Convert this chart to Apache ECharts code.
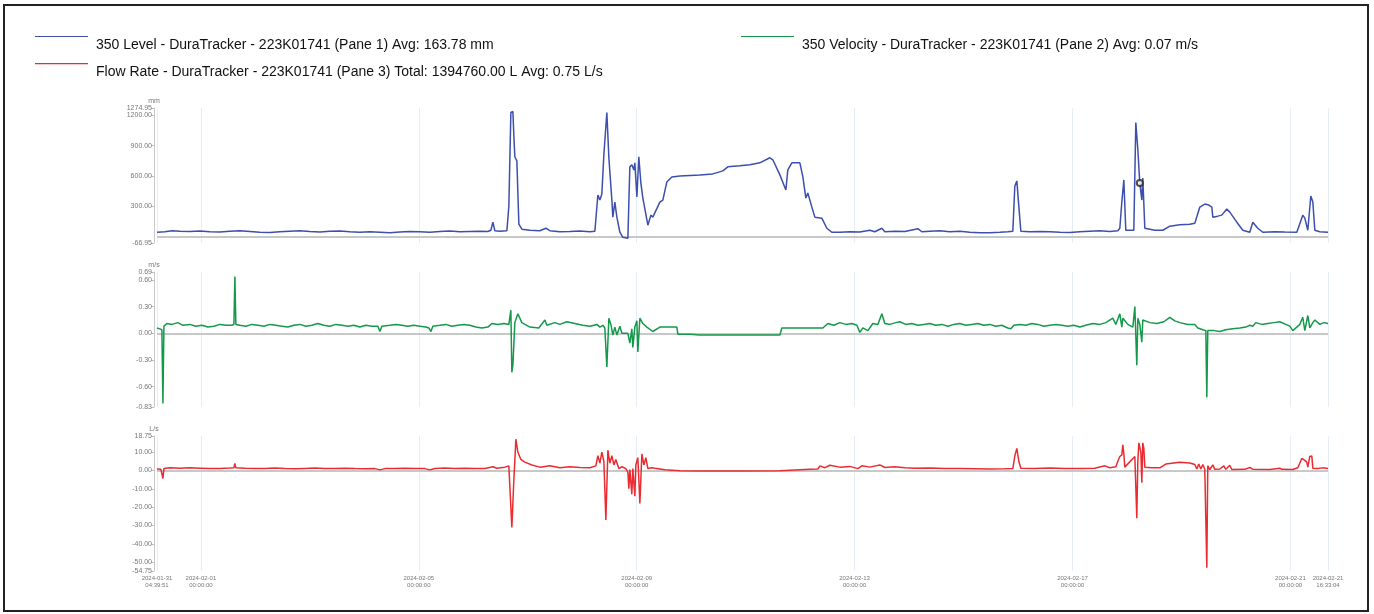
<!DOCTYPE html>
<html>
<head>
<meta charset="utf-8">
<script src="https://cdn.jsdelivr.net/npm/echarts@6/dist/echarts.min.js"></script>
<style>
  html, body { margin: 0; padding: 0; background: #fff; }
  #chart { width: 1374px; height: 614px; }
  #frame { position: absolute; left: 3px; top: 4px; width: 1362px; height: 604px; border: 2px solid #222; pointer-events: none; }
</style>
</head>
<body>
<div id="chart"></div>
<div id="frame"></div>
<script>
// time values are days since 2024-02-01 00:00 (UTC)
const xTickLabels = ['2024-01-31 04:39:51', '2024-02-01 00:00:00', '2024-02-05 00:00:00', '2024-02-09 00:00:00',
  '2024-02-13 00:00:00', '2024-02-17 00:00:00', '2024-02-21 00:00:00', '2024-02-21 16:33:04']

const levelTicks = [-66.95, 300, 600, 900, 1200, 1274.95]
const velocityTicks = [-0.83, -0.6, -0.3, 0, 0.3, 0.6, 0.69]
const flowTicks = [-54.75, -50, -40, -30, -20, -10, 0, 10, 18.75]

const seriesNames = [
  '350 Level - DuraTracker - 223K01741 (Pane 1) Avg: 163.78 mm',
  '350 Velocity - DuraTracker - 223K01741 (Pane 2) Avg: 0.07 m/s',
  'Flow Rate - DuraTracker - 223K01741 (Pane 3) Total: 1394760.00 L Avg: 0.75 L/s'
]

const levelData = [
  [-0.806,40],[-0.661,45],[-0.532,55],[-0.385,50],[-0.202,48],[-0.018,52],[0.165,45],[0.349,42],[0.532,50],[0.716,55],
  [0.899,48],[1.083,40],[1.266,38],[1.450,45],[1.634,50],[1.817,55],[2.001,48],[2.184,42],[2.368,50],[2.551,52],
  [2.735,45],[2.918,40],[3.102,45],[3.286,40],[3.469,35],[3.653,42],[3.836,48],[4.020,45],[4.203,40],[4.387,48],
  [4.570,52],[4.754,45],[4.937,48],[5.121,50],[5.268,48],[5.323,60],[5.360,140],[5.396,55],[5.488,50],[5.617,55],
  [5.653,300],[5.690,1230],[5.727,1240],[5.745,1000],[5.763,790],[5.800,750],[5.837,120],[5.892,70],[6.039,60],[6.222,55],
  [6.332,80],[6.406,55],[6.589,45],[6.773,48],[6.957,52],[7.140,45],[7.232,50],[7.287,410],[7.324,360],[7.360,420],
  [7.397,810],[7.452,1230],[7.489,780],[7.544,360],[7.562,190],[7.599,340],[7.636,190],[7.691,40],[7.746,-10],[7.838,-20],
  [7.874,690],[7.911,710],[7.948,660],[7.966,730],[8.003,390],[8.039,790],[8.076,530],[8.113,380],[8.205,110],[8.260,210],
  [8.296,190],[8.425,340],[8.480,360],[8.553,540],[8.645,590],[8.792,600],[8.976,605],[9.159,610],[9.398,620],[9.581,650],
  [9.673,690],[9.893,700],[10.077,710],[10.260,730],[10.444,780],[10.499,760],[10.628,610],[10.738,460],[10.774,660],[10.848,730],
  [10.995,730],[11.050,590],[11.105,380],[11.141,430],[11.215,290],[11.270,190],[11.398,180],[11.490,80],[11.582,40],[11.729,40],
  [11.912,45],[12.096,42],[12.279,60],[12.371,45],[12.500,80],[12.555,45],[12.738,50],[12.922,48],[13.161,75],[13.234,45],
  [13.381,50],[13.564,55],[13.748,45],[13.931,50],[14.115,40],[14.299,35],[14.482,35],[14.666,40],[14.812,45],[14.904,50],
  [14.941,500],[14.978,550],[15.014,300],[15.051,50],[15.216,45],[15.400,48],[15.583,45],[15.767,40],[15.950,38],[16.134,45],
  [16.318,50],[16.501,55],[16.685,48],[16.832,55],[16.868,80],[16.905,340],[16.942,560],[16.978,60],[17.125,60],[17.162,1130],
  [17.199,860],[17.235,530],[17.272,360],[17.290,580],[17.327,80],[17.511,60],[17.658,60],[17.786,100],[17.970,115],[18.153,120],
  [18.245,130],[18.337,290],[18.428,320],[18.502,310],[18.557,290],[18.575,190],[18.667,200],[18.740,210],[18.832,270],[18.887,240],
  [19.016,140],[19.126,60],[19.254,40],[19.309,140],[19.401,80],[19.493,40],[19.713,45],[19.897,42],[20.117,40],[20.227,210],
  [20.264,180],[20.319,60],[20.374,400],[20.411,340],[20.448,60],[20.539,45],[20.690,40]
]

const velocityData = [
  [-0.806,0.06],[-0.753,0.05],[-0.716,0.04],[-0.697,-0.79],[-0.679,0.08],[-0.624,0.11],[-0.532,0.10],[-0.422,0.12],[-0.330,0.09],[-0.202,0.10],
  [-0.092,0.08],[0.018,0.09],[0.128,0.07],[0.239,0.08],[0.349,0.10],[0.459,0.09],[0.569,0.09],[0.606,0.10],[0.624,0.64],[0.642,0.10],
  [0.716,0.09],[0.826,0.08],[0.936,0.10],[1.046,0.09],[1.156,0.08],[1.266,0.10],[1.377,0.09],[1.487,0.08],[1.597,0.07],[1.707,0.09],
  [1.817,0.10],[1.927,0.08],[2.037,0.09],[2.148,0.11],[2.258,0.09],[2.368,0.08],[2.478,0.10],[2.588,0.09],[2.698,0.08],[2.808,0.09],
  [2.918,0.07],[3.029,0.09],[3.139,0.08],[3.249,0.08],[3.286,0.02],[3.322,0.08],[3.469,0.09],[3.579,0.10],[3.689,0.09],[3.799,0.08],
  [3.910,0.09],[4.020,0.08],[4.130,0.07],[4.185,0.06],[4.222,0.02],[4.258,0.08],[4.387,0.09],[4.497,0.10],[4.607,0.08],[4.717,0.09],
  [4.827,0.10],[4.937,0.09],[5.048,0.07],[5.158,0.06],[5.268,0.07],[5.341,0.11],[5.451,0.10],[5.562,0.11],[5.653,0.10],[5.690,0.26],
  [5.708,-0.44],[5.727,-0.36],[5.763,0.12],[5.818,0.22],[5.892,0.12],[6.039,0.07],[6.204,0.06],[6.314,0.15],[6.351,0.09],[6.498,0.12],
  [6.589,0.10],[6.718,0.13],[6.865,0.11],[7.012,0.09],[7.140,0.08],[7.269,0.10],[7.324,0.07],[7.379,0.09],[7.415,0.06],[7.452,-0.38],
  [7.489,0.17],[7.526,0.10],[7.562,-0.02],[7.599,0.07],[7.636,-0.02],[7.691,0.08],[7.728,0.00],[7.838,0.00],[7.874,-0.11],[7.911,0.05],
  [7.929,-0.16],[7.966,0.07],[8.003,0.14],[8.021,-0.21],[8.058,0.17],[8.113,0.11],[8.186,0.07],[8.296,0.02],[8.425,0.07],[8.737,0.07],
  [8.755,-0.01],[8.976,-0.01],[9.159,-0.02],[9.398,-0.02],[9.710,-0.02],[10.260,-0.02],[10.628,-0.02],[10.664,0.06],[10.995,0.06],[11.325,0.06],
  [11.417,0.06],[11.509,0.11],[11.619,0.09],[11.729,0.12],[11.839,0.10],[11.949,0.11],[12.041,0.09],[12.096,0.01],[12.151,0.06],[12.243,0.03],
  [12.335,0.11],[12.426,0.10],[12.500,0.22],[12.555,0.11],[12.647,0.10],[12.757,0.12],[12.830,0.13],[12.940,0.10],[13.050,0.11],[13.161,0.09],
  [13.271,0.10],[13.381,0.11],[13.491,0.09],[13.601,0.10],[13.711,0.08],[13.821,0.10],[13.931,0.11],[14.042,0.09],[14.152,0.10],[14.262,0.11],
  [14.372,0.09],[14.482,0.10],[14.592,0.08],[14.702,0.09],[14.812,0.06],[14.868,0.05],[14.923,0.09],[15.033,0.10],[15.143,0.09],[15.253,0.11],
  [15.363,0.10],[15.473,0.08],[15.583,0.09],[15.694,0.10],[15.804,0.09],[15.914,0.08],[16.024,0.09],[16.134,0.07],[16.244,0.09],[16.373,0.11],
  [16.501,0.10],[16.611,0.12],[16.740,0.17],[16.795,0.10],[16.868,0.22],[16.905,0.07],[16.924,0.17],[17.015,0.10],[17.107,0.07],[17.144,0.30],
  [17.180,-0.36],[17.199,0.17],[17.235,0.10],[17.272,-0.10],[17.290,0.15],[17.419,0.12],[17.547,0.11],[17.676,0.13],[17.786,0.18],[17.878,0.14],
  [17.970,0.12],[18.116,0.10],[18.245,0.10],[18.300,0.06],[18.392,0.04],[18.447,0.03],[18.465,-0.72],[18.483,0.03],[18.594,0.03],[18.704,0.02],
  [18.814,0.04],[18.942,0.05],[19.071,0.06],[19.181,0.07],[19.254,0.09],[19.309,0.08],[19.365,0.12],[19.475,0.10],[19.585,0.11],[19.695,0.12],
  [19.805,0.13],[19.915,0.10],[19.989,0.08],[20.044,0.03],[20.117,0.07],[20.172,0.10],[20.227,0.18],[20.264,0.03],[20.319,0.20],[20.356,0.06],
  [20.411,0.12],[20.448,0.15],[20.539,0.10],[20.613,0.12],[20.690,0.11]
]

const flowData = [
  [-0.806,0.8],[-0.734,0.6],[-0.716,0.5],[-0.697,-4.4],[-0.679,1.0],[-0.569,1.5],[-0.385,1.2],[-0.202,1.4],[-0.018,1.2],[0.165,1.0],
  [0.349,1.1],[0.532,1.3],[0.606,1.4],[0.624,3.8],[0.642,1.4],[0.808,1.2],[0.991,1.0],[1.175,1.1],[1.358,1.3],[1.542,1.0],
  [1.725,0.9],[1.909,1.1],[2.092,1.3],[2.276,1.1],[2.460,1.0],[2.643,1.2],[2.827,1.0],[3.010,0.9],[3.194,1.0],[3.286,0.3],
  [3.377,1.0],[3.561,1.1],[3.744,1.2],[3.928,1.0],[4.112,1.0],[4.203,0.3],[4.295,1.1],[4.479,1.3],[4.662,1.1],[4.846,1.2],
  [5.029,1.0],[5.213,1.1],[5.360,2.0],[5.433,1.2],[5.580,1.8],[5.653,2.5],[5.690,-20],[5.708,-31],[5.745,-5],[5.782,17],
  [5.818,10],[5.874,6],[5.947,4.5],[6.075,3],[6.222,1.8],[6.406,2.5],[6.589,1.5],[6.773,2.0],[6.957,1.6],[7.140,1.5],
  [7.250,2.5],[7.287,8],[7.324,4],[7.360,10],[7.397,5],[7.434,-27],[7.471,11],[7.507,4],[7.544,8],[7.581,3],
  [7.617,6],[7.672,1],[7.728,2],[7.801,1],[7.838,-1],[7.856,-10],[7.874,0.5],[7.911,-13],[7.929,1],[7.966,-14],
  [7.984,3],[8.021,7],[8.058,-18],[8.095,9],[8.131,3],[8.168,7],[8.205,1],[8.278,1.5],[8.333,1.2],[8.517,0.4],
  [8.792,-0.2],[9.159,-0.3],[9.893,-0.3],[10.628,-0.2],[10.664,0.6],[11.178,0.7],[11.325,0.8],[11.362,2.5],[11.454,1.5],[11.545,2.8],
  [11.729,1.8],[11.912,2.2],[12.059,1.0],[12.133,2.5],[12.279,1.8],[12.463,3.0],[12.555,1.6],[12.738,2.0],[12.922,1.5],[13.105,1.2],
  [13.381,1.3],[13.656,1.1],[13.931,1.0],[14.207,0.9],[14.482,0.8],[14.757,0.9],[14.904,1.0],[14.941,8],[14.978,12],[15.014,5],
  [15.051,1.2],[15.308,1.0],[15.583,1.3],[15.859,1.1],[16.134,1.0],[16.409,1.2],[16.593,2.5],[16.685,1.5],[16.795,2.0],[16.832,5],
  [16.868,7.6],[16.905,8.5],[16.924,14],[16.942,9],[16.960,1.8],[17.144,7.6],[17.180,-26],[17.199,5],[17.217,15],[17.254,10],
  [17.272,-6.7],[17.290,15],[17.309,12],[17.327,1.8],[17.456,1.5],[17.602,1.4],[17.713,3.5],[17.749,4.4],[17.970,4.5],[18.153,4.0],
  [18.245,3.2],[18.282,0.8],[18.318,3.5],[18.355,0.8],[18.392,3.2],[18.428,0.6],[18.465,-53],[18.483,2.5],[18.520,0.5],[18.575,3.0],
  [18.612,0.6],[18.704,0.8],[18.777,2.5],[18.814,0.6],[18.887,2.8],[18.924,0.5],[19.163,0.6],[19.254,1.6],[19.309,0.7],[19.621,0.5],
  [19.805,1.2],[19.842,0.6],[20.044,0.5],[20.135,1.5],[20.209,6.5],[20.264,5.5],[20.301,4.5],[20.319,1.8],[20.356,7.6],[20.393,7.8],
  [20.411,1.2],[20.503,1.0],[20.594,1.4],[20.690,1.0]
]

// hover marker left on the level pane
const markerPoint = [17.235, 530]

const DAY = 86400000
const base = Date.UTC(2024, 1, 1)
const toTime = d => base + d * DAY
const parseTick = s => Date.parse(s.replace(' ', 'T') + 'Z')
const xTicks = xTickLabels.map(parseTick)
const pad = n => String(n).padStart(2, '0')
const fmtTime = v => {
  const d = new Date(v)
  return d.getUTCFullYear() + '-' + pad(d.getUTCMonth() + 1) + '-' + pad(d.getUTCDate()) + '\n' +
    pad(d.getUTCHours()) + ':' + pad(d.getUTCMinutes()) + ':' + pad(d.getUTCSeconds())
}

const colors = ['#3d4fac', '#14994b', '#ec2b31']
const panes = [
  { top: 108, ticks: levelTicks, unit: 'mm', data: levelData },
  { top: 272, ticks: velocityTicks, unit: 'm/s', data: velocityData },
  { top: 436, ticks: flowTicks, unit: 'L/s', data: flowData }
]

// thin line at the top of a taller box, so the text sits below the line
const legendIcon = 'path://M0,0H53V1.1H0Z M0,19H0.05V19.05H0Z'
const legendText = { fontFamily: 'Liberation Sans, Arial, sans-serif', fontSize: 14, color: '#111', padding: [0, 0, 0, 3] }
const legendItem = i => ({ name: seriesNames[i], itemStyle: { color: colors[i] } })

const chart = echarts.init(document.getElementById('chart'))

const option = {
  animation: false,
  backgroundColor: '#fff',
  legend: [
    {
      data: [legendItem(0), legendItem(2)], orient: 'vertical', left: 30, top: 31,
      icon: legendIcon, itemWidth: 53, itemHeight: 20, itemGap: 8, itemTextGap: 8,
      selectedMode: false, textStyle: legendText
    },
    {
      data: [legendItem(1)], orient: 'vertical', left: 736, top: 31,
      icon: legendIcon, itemWidth: 53, itemHeight: 20, itemTextGap: 12,
      selectedMode: false, textStyle: legendText
    }
  ],
  grid: panes.map(p => ({ left: 157, right: 46, top: p.top, height: 135 })),
  xAxis: panes.map((p, i) => ({
    type: 'value',
    gridIndex: i,
    min: xTicks[0],
    max: xTicks[xTicks.length - 1],
    axisLine: { show: false },
    axisTick: { show: false, customValues: xTicks },
    splitLine: { show: true, lineStyle: { color: '#e6edf7', width: 1 } },
    axisLabel: {
      show: i === 2,
      customValues: xTicks,
      formatter: fmtTime,
      fontSize: 6,
      lineHeight: 7,
      color: '#777',
      margin: 4
    }
  })),
  yAxis: panes.map((p, i) => ({
    type: 'value',
    gridIndex: i,
    min: p.ticks[0],
    max: p.ticks[p.ticks.length - 1],
    offset: 3,
    name: p.unit,
    nameLocation: 'end',
    nameGap: 2,
    nameTextStyle: { fontSize: 7, color: '#777' },
    axisLine: { show: true, lineStyle: { color: '#c8c8c8' } },
    axisTick: { show: true, length: 3, customValues: p.ticks, lineStyle: { color: '#bbb' } },
    splitLine: { show: false },
    axisLabel: {
      customValues: p.ticks,
      formatter: v => v.toFixed(2),
      fontSize: 7,
      color: '#777',
      margin: 2
    }
  })),
  series: panes.map((p, i) => ({
    name: seriesNames[i],
    type: 'line',
    xAxisIndex: i,
    yAxisIndex: i,
    data: p.data.map(d => [toTime(d[0]), d[1]]),
    showSymbol: false,
    itemStyle: { color: colors[i] },
    lineStyle: { width: 1.5, color: colors[i] },
    markLine: {
      silent: true, symbol: 'none', z: 1, animation: false,
      label: { show: false },
      lineStyle: { color: '#c8c8c8', width: 2, type: 'solid' },
      data: [{ yAxis: 0 }]
    }
  })).concat([{
    type: 'scatter',
    xAxisIndex: 0,
    yAxisIndex: 0,
    data: [[toTime(markerPoint[0]), markerPoint[1]]],
    symbol: 'emptyCircle',
    symbolSize: 6,
    itemStyle: { color: '#222', borderWidth: 1.2 },
    z: 5
  }])
}

chart.setOption(option)
</script>
</body>
</html>
